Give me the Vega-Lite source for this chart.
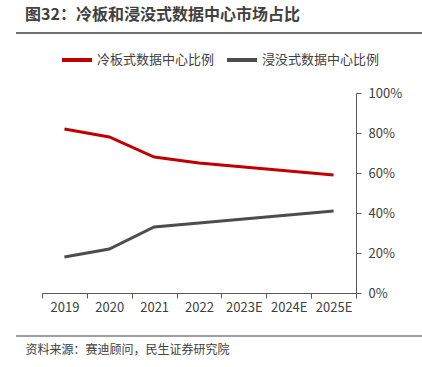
{
  "$schema": "https://vega.github.io/schema/vega-lite/v6.json",
  "width": 314,
  "height": 200,
  "autosize": "none",
  "padding": {"left": 42, "top": 93, "right": 66, "bottom": 74},
  "background": "white",
  "config": {
    "font": "Noto Sans CJK SC",
    "view": {"stroke": null}
  },
  "title": {
    "text": "图32：冷板和浸没式数据中心市场占比",
    "anchor": "start",
    "frame": "group",
    "dx": -17,
    "offset": -4,
    "baseline": "alphabetic",
    "fontSize": 16,
    "fontWeight": "bold",
    "color": "#404040",
    "font": "Noto Sans CJK SC"
  },
  "datasets": {
    "main": [
      {"year": "2019", "series": "冷板式数据中心比例", "share": 0.82},
      {"year": "2020", "series": "冷板式数据中心比例", "share": 0.78},
      {"year": "2021", "series": "冷板式数据中心比例", "share": 0.68},
      {"year": "2022", "series": "冷板式数据中心比例", "share": 0.65},
      {"year": "2023E", "series": "冷板式数据中心比例", "share": 0.63},
      {"year": "2024E", "series": "冷板式数据中心比例", "share": 0.61},
      {"year": "2025E", "series": "冷板式数据中心比例", "share": 0.59},
      {"year": "2019", "series": "浸没式数据中心比例", "share": 0.18},
      {"year": "2020", "series": "浸没式数据中心比例", "share": 0.22},
      {"year": "2021", "series": "浸没式数据中心比例", "share": 0.33},
      {"year": "2022", "series": "浸没式数据中心比例", "share": 0.35},
      {"year": "2023E", "series": "浸没式数据中心比例", "share": 0.37},
      {"year": "2024E", "series": "浸没式数据中心比例", "share": 0.39},
      {"year": "2025E", "series": "浸没式数据中心比例", "share": 0.41}
    ]
  },
  "layer": [
    {
      "data": {"name": "main"},
      "mark": {"type": "line", "strokeWidth": 3},
      "encoding": {
        "x": {
          "field": "year",
          "type": "ordinal",
          "sort": null,
          "scale": {"type": "band", "paddingInner": 0, "paddingOuter": 0},
          "axis": {
            "title": "资料来源：赛迪顾问，民生证券研究院",
            "titleAnchor": "start",
            "titleAlign": "left",
            "titleX": -17,
            "titleY": 56,
            "titleBaseline": "middle",
            "titleFontSize": 12,
            "titleFontWeight": "normal",
            "titleColor": "#404040",
            "titleFont": "Noto Sans CJK SC",
            "labelAngle": 0,
            "labelFontSize": 13,
            "labelColor": "#404040",
            "labelPadding": 3,
            "labelFont": "Noto Sans CJK SC",
            "tickBand": "extent",
            "tickSize": 5,
            "tickColor": "#595959",
            "domainColor": "#595959",
            "grid": false
          }
        },
        "y": {
          "field": "share",
          "type": "quantitative",
          "scale": {"domain": [0, 1], "nice": false},
          "axis": {
            "orient": "right",
            "title": null,
            "format": ".0%",
            "values": [0, 0.2, 0.4, 0.6, 0.8, 1],
            "labelFontSize": 13,
            "labelColor": "#404040",
            "labelFont": "Noto Sans CJK SC",
            "labelPadding": 7,
            "tickSize": 5,
            "tickColor": "#595959",
            "domainColor": "#595959",
            "grid": false
          }
        },
        "color": {
          "field": "series",
          "type": "nominal",
          "scale": {
            "domain": ["冷板式数据中心比例", "浸没式数据中心比例"],
            "range": ["#C00000", "#4D4D4D"]
          },
          "legend": {
            "title": null,
            "orient": "none",
            "direction": "horizontal",
            "legendX": 18,
            "legendY": -50,
            "symbolType": "stroke",
            "symbolSize": 900,
            "symbolStrokeWidth": 4,
            "labelFontSize": 13,
            "labelColor": "#404040",
            "labelFont": "Noto Sans CJK SC",
            "labelOffset": 3,
            "columnPadding": 4
          }
        }
      }
    },
    {
      "data": {"values": [{"pos": "top"}]},
      "mark": {"type": "rule", "color": "#404040", "strokeWidth": 1.5},
      "encoding": {
        "x": {"value": -26},
        "x2": {"value": 380},
        "y": {"value": -60}
      }
    },
    {
      "data": {"values": [{"pos": "bottom"}]},
      "mark": {"type": "rule", "color": "#404040", "strokeWidth": 1},
      "encoding": {
        "x": {"value": -26},
        "x2": {"value": 380},
        "y": {"value": 243}
      }
    }
  ]
}
